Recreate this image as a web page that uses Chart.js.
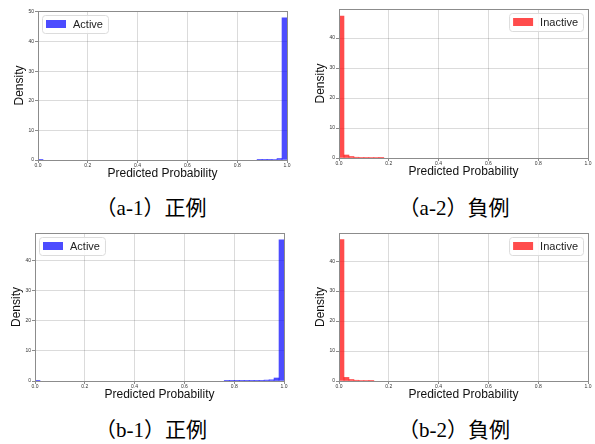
<!DOCTYPE html>
<html>
<head>
<meta charset="utf-8">
<script src="https://cdn.jsdelivr.net/npm/chart.js@4"></script>
<style>
  html, body { margin: 0; padding: 0; background: #fff; }
  #page { position: relative; width: 595px; height: 444px; overflow: hidden; }
  canvas { position: absolute; }
  .cap {
    position: absolute; width: 240px; text-align: center;
    font-family: "Liberation Serif", "Noto Sans CJK JP", serif;
    font-size: 21px; line-height: 26px; color: #000; white-space: nowrap;
  }
</style>
</head>
<body>
<div id="page">
  <canvas id="a1"></canvas>
  <canvas id="a2"></canvas>
  <canvas id="b1"></canvas>
  <canvas id="b2"></canvas>
  <div class="cap" id="capA1">（a-1）正例</div>
  <div class="cap" id="capA2">（a-2）負例</div>
  <div class="cap" id="capB1">（b-1）正例</div>
  <div class="cap" id="capB2">（b-2）負例</div>
</div>
<script>
// Histogram densities, 50 bins of width 0.02 over [0, 1]
const binCount = 50;
const binWidth = 0.02;
const binCenters = Array.from({length: binCount}, (_, i) => +(binWidth * (i + 0.5)).toFixed(3));

const xTicks = [0.0, 0.2, 0.4, 0.6, 0.8, 1.0];
const yTicks = [0, 10, 20, 30, 40, 50];

// (a) positives / negatives
const activeA = [
  0.10, 0, 0, 0, 0, 0, 0, 0, 0, 0,
  0, 0, 0, 0, 0, 0, 0, 0, 0, 0,
  0, 0, 0, 0, 0, 0, 0, 0, 0, 0,
  0, 0, 0, 0, 0, 0, 0, 0, 0, 0,
  0, 0, 0, 0, 0.08, 0.08, 0.10, 0.15, 0.50, 48.0
];
const inactiveA = [
  47.3, 1.00, 0.50, 0.25, 0.20, 0.20, 0.15, 0.15, 0.12, 0,
  0, 0, 0, 0, 0, 0, 0, 0, 0, 0,
  0, 0, 0, 0, 0, 0, 0, 0, 0, 0,
  0, 0, 0, 0, 0, 0, 0, 0, 0, 0,
  0, 0, 0, 0, 0, 0, 0, 0, 0, 0
];

// (b) positives / negatives
const activeB = [
  0.10, 0, 0, 0, 0, 0, 0, 0, 0, 0,
  0, 0, 0, 0, 0, 0, 0, 0, 0, 0,
  0, 0, 0, 0, 0, 0, 0, 0, 0, 0,
  0, 0, 0, 0, 0, 0, 0, 0, 0.08, 0.08,
  0.08, 0.08, 0.08, 0.08, 0.08, 0.10, 0.30, 0.40, 1.00, 47.0
];
const inactiveB = [
  47.2, 1.20, 0.50, 0.25, 0.15, 0.15, 0.12, 0, 0, 0,
  0, 0, 0, 0, 0, 0, 0, 0, 0, 0,
  0, 0, 0, 0, 0, 0, 0, 0, 0, 0,
  0, 0, 0, 0, 0, 0, 0, 0, 0, 0,
  0, 0, 0, 0, 0, 0, 0, 0, 0, 0
];

const BLUE = 'rgba(0, 0, 255, 0.7)';
const RED = 'rgba(255, 0, 0, 0.7)';

// Axes frame drawn on all four sides
const framePlugin = {
  id: 'frame',
  afterDatasetsDraw(chart) {
    const {ctx, chartArea: a} = chart;
    ctx.save();
    ctx.strokeStyle = '#8c8c8c';
    ctx.lineWidth = 1;
    ctx.strokeRect(Math.round(a.left) + 0.5, Math.round(a.top) + 0.5,
                   Math.round(a.right - a.left), Math.round(a.bottom - a.top));
    ctx.restore();
  }
};

// Boxed legend placed inside the plot area
const boxLegendPlugin = {
  id: 'boxLegend',
  afterDraw(chart, args, opts) {
    const {ctx, chartArea: a} = chart;
    const ds = chart.data.datasets[0];
    ctx.save();
    ctx.font = '11px "Liberation Sans", Arial, sans-serif';
    const tw = ctx.measureText(ds.label).width;
    const w = 4 + 20 + 7 + tw + 5;
    const h = 18;
    const x = opts.side === 'right' ? a.right - 5 - w : a.left + 4;
    const y = a.top + 4;
    ctx.beginPath();
    ctx.roundRect(x + 0.5, y + 0.5, w, h, 3);
    ctx.fillStyle = 'rgba(255,255,255,0.85)';
    ctx.fill();
    ctx.strokeStyle = '#dcdcdc';
    ctx.lineWidth = 1;
    ctx.stroke();
    ctx.fillStyle = ds.backgroundColor;
    ctx.fillRect(x + 4, y + 5, 20, 8);
    ctx.fillStyle = '#222';
    ctx.textBaseline = 'middle';
    ctx.fillText(ds.label, x + 31, y + h / 2 + 1);
    ctx.restore();
  }
};

function makePanel(id, area, values, label, color, yMax, side) {
  const Lpad = 38, Tpad = 11, Rpad = 8, Bpad = 25;
  const cv = document.getElementById(id);
  cv.style.left = (area.L - Lpad) + 'px';
  cv.style.top = (area.T - Tpad) + 'px';
  cv.width = area.R - area.L + Lpad + Rpad;
  cv.height = area.B - area.T + Tpad + Bpad;

  const tickFont = {family: '"Liberation Sans", Arial, sans-serif', size: 5};
  const titleFont = {family: '"Liberation Sans", Arial, sans-serif', size: 12};

  return new Chart(cv, {
    type: 'bar',
    data: {
      datasets: [{
        label: label,
        // empty bins are left undrawn
        data: binCenters.map((c, i) => ({x: c, y: values[i] > 0 ? values[i] : null})),
        backgroundColor: color,
        borderWidth: 0,
        barPercentage: 1,
        categoryPercentage: 1
      }]
    },
    options: {
      responsive: false,
      animation: false,
      layout: {padding: {top: Tpad, right: Rpad, left: 0, bottom: 0}},
      plugins: {
        legend: {display: false},
        tooltip: {enabled: false},
        boxLegend: {side: side}
      },
      scales: {
        x: {
          type: 'linear',
          min: 0, max: 1,
          offset: false,
          afterFit(s) { s.height = Bpad; },
          afterBuildTicks(s) { s.ticks = xTicks.map(v => ({value: v})); },
          grid: {color: 'rgba(0,0,0,0.14)', tickColor: '#8c8c8c', tickLength: 3, offset: false},
          border: {display: false},
          ticks: {
            font: tickFont, color: '#333', padding: 0, maxRotation: 0, autoSkip: false,
            callback: v => v.toFixed(1)
          },
          title: {display: true, text: 'Predicted Probability', font: titleFont, color: '#111',
                  padding: {top: 0, bottom: 3.8}}
        },
        y: {
          min: 0, max: yMax,
          afterFit(s) { s.width = Lpad; },
          afterBuildTicks(s) { s.ticks = yTicks.filter(v => v <= yMax).map(v => ({value: v})); },
          grid: {color: 'rgba(0,0,0,0.14)', tickColor: '#8c8c8c', tickLength: 3},
          border: {display: false},
          ticks: {font: tickFont, color: '#333', padding: 1, callback: v => String(v)},
          title: {display: true, text: 'Density', font: titleFont, color: '#111',
                  padding: {top: 12.8, bottom: 0}}
        }
      }
    },
    plugins: [framePlugin, boxLegendPlugin]
  });
}

makePanel('a1', {L: 38, T: 11, R: 287, B: 160}, activeA, 'Active', BLUE, 50.3, 'left');
makePanel('a2', {L: 339, T: 9, R: 588, B: 158}, inactiveA, 'Inactive', RED, 49.7, 'right');
makePanel('b1', {L: 35, T: 233, R: 284, B: 381}, activeB, 'Active', BLUE, 49.3, 'left');
makePanel('b2', {L: 339, T: 233, R: 588, B: 381}, inactiveB, 'Inactive', RED, 49.4, 'right');

// Panel captions
function placeCaption(id, cx, cy) {
  const el = document.getElementById(id);
  el.style.left = (cx - 120) + 'px';
  el.style.top = (cy - 13) + 'px';
}
placeCaption('capA1', 151, 208);
placeCaption('capA2', 454, 208);
placeCaption('capB1', 151, 430);
placeCaption('capB2', 454, 430);
</script>
</body>
</html>
